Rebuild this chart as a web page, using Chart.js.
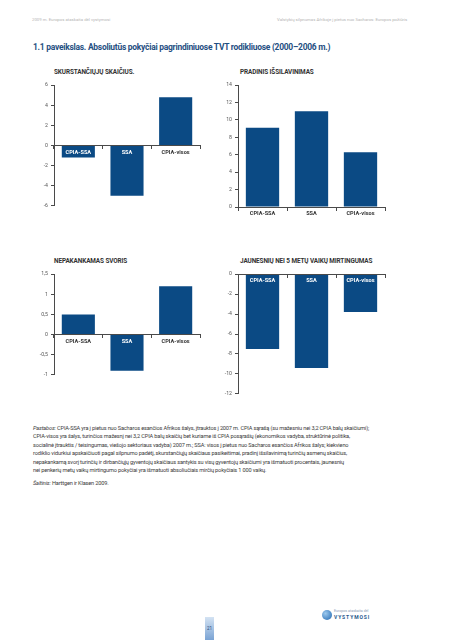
<!DOCTYPE html>
<html lang="lt">
<head>
<meta charset="utf-8">
<title>1.1 paveikslas</title>
<script src="https://cdn.jsdelivr.net/npm/chart.js@4.4.1/dist/chart.umd.min.js"></script>
<style>
    body { margin: 0; width: 453px; height: 640px; background: #fff; position: relative; overflow: hidden; font-family: Roboto, "Open Sans", sans-serif; }
    .abs { position: absolute; white-space: nowrap; }
    .header { font-size: 4.3px; color: #b4b4b4; top: 17px; }
    .main-title { left: 33px; top: 41px; font-size: 9.2px; font-weight: 700; color: #1f4f82; letter-spacing: -0.28px; transform: scaleX(0.92); transform-origin: left top; }
    .chart-title { font-size: 6.4px; font-weight: 700; color: #333; letter-spacing: -0.1px; }
    canvas { position: absolute; }
    .note { left: 33px; font-size: 5.6px; color: #3a3a3a; letter-spacing: -0.15px; }
    .page-num { left: 205px; top: 617px; width: 9px; height: 23px; background: linear-gradient(#d4e3f3, #7aa3d4); font-size: 4.5px; color: #2b4c7c; text-align: center; line-height: 23px; }
    .logo-dot { left: 322px; top: 610px; width: 10px; height: 10px; border-radius: 50%; background: radial-gradient(circle at 35% 35%, #9cc9ee, #1f66b0); }
    .logo-top { left: 334px; top: 609px; font-size: 3.6px; color: #8a9cb4; }
    .logo-bot { left: 334px; top: 614px; font-size: 5px; font-weight: 700; color: #2a5a8e; letter-spacing: 0.9px; }
</style>
</head>
<body>

<div class="abs header" style="left:32px">2009 m. Europos ataskaita dėl vystymosi</div>
<div class="abs header" style="left:277px">Valstybių silpnumas Afrikoje į pietus nuo Sacharos: Europos požiūris</div>

<div class="abs main-title">1.1 paveikslas. Absoliutūs pokyčiai pagrindiniuose TVT rodikliuose (2000–2006 m.)</div>

<div class="abs chart-title" style="left:54px; top:68px">SKURSTANČIŲJŲ SKAIČIUS.</div>
<div class="abs chart-title" style="left:240px; top:68px">PRADINIS IŠSILAVINIMAS</div>
<div class="abs chart-title" style="left:54px; top:257px">NEPAKANKAMAS SVORIS</div>
<div class="abs chart-title" style="left:240px; top:257px">JAUNESNIŲ NEI 5 METŲ VAIKŲ MIRTINGUMAS</div>

<canvas id="povertyChart" width="175" height="133" style="left:30px; top:79px; width:175px; height:133px"></canvas>
<canvas id="educationChart" width="176" height="140" style="left:214px; top:79px; width:176px; height:140px"></canvas>
<canvas id="weightChart" width="175" height="113" style="left:30px; top:268px; width:175px; height:113px"></canvas>
<canvas id="mortalityChart" width="176" height="132" style="left:214px; top:268px; width:176px; height:132px"></canvas>

<div class="abs note" style="top:425px"><i>Pastabos:</i> CPIA-SSA yra į pietus nuo Sacharos esančios Afrikos šalys, įtrauktos į 2007 m. CPIA sąrašą (su mažesniu nei 3,2 CPIA balų skaičiumi);</div>
<div class="abs note" style="top:433.4px">CPIA-visos yra šalys, turinčios mažesnį nei 3,2 CPIA balų skaičių bet kuriame iš CPIA posąrašių (ekonomikos vadyba, struktūrinė politika,</div>
<div class="abs note" style="top:441.8px">socialinė įtrauktis / teisingumas, viešojo sektoriaus vadyba) 2007 m.; SSA: visos į pietus nuo Sacharos esančios Afrikos šalys; kiekvieno</div>
<div class="abs note" style="top:450.2px">rodiklio vidurkiui apskaičiuoti pagal silpnumo padėtį, skurstančiųjų skaičiaus pasikeitimai, pradinį išsilavinimą turinčių asmenų skaičius,</div>
<div class="abs note" style="top:458.6px">nepakankamą svorį turinčių ir dirbančiųjų gyventojų skaičiaus santykis su visų gyventojų skaičiumi yra išmatuoti procentais, jaunesnių</div>
<div class="abs note" style="top:467px">nei penkerių metų vaikų mirtingumo pokyčiai yra išmatuoti absoliučiais mirčių pokyčiais 1 000 vaikų.</div>
<div class="abs note" style="top:480px"><i>Šaltinis:</i> Harttgen ir Klasen 2009.</div>

<div class="abs page-num">21</div>
<div class="abs logo-dot"></div>
<div class="abs logo-top">Europos ataskaita dėl</div>
<div class="abs logo-bot">VYSTYMOSI</div>

<script>
// ===============================================
// Data
// ===============================================
const categories = ['CPIA-SSA', 'SSA', 'CPIA-visos'];

const povertyValues = [-1.2, -5.0, 4.8];
const educationValues = [9.1, 11.0, 6.3];
const weightValues = [0.5, -0.9, 1.2];
const mortalityValues = [-7.5, -9.4, -3.8];

// [min, max, step] for each y axis
const povertyTicks = [-6, 6, 2];
const educationTicks = [0, 14, 2];
const weightTicks = [-1, 1.5, 0.5];
const mortalityTicks = [-12, 0, 2];

const barColor = '#0b4a84';
const axisColor = '#4a4a4a';

// ===============================================
// One small bar chart
// ===============================================
function makeChart(canvasId, values, yTicks, bottomPad) {
    const [yMin, yMax, yStep] = yTicks;

    return new Chart(document.getElementById(canvasId), {
        type: 'bar',
        data: {
            labels: categories,
            datasets: [{
                data: values,
                backgroundColor: barColor,
                borderWidth: 0,
                categoryPercentage: 1,
                barPercentage: 0.68,
            }]
        },
        options: {
            responsive: false,
            animation: false,
            devicePixelRatio: 1,
            layout: { padding: { top: 5, right: 5, bottom: bottomPad, left: 0 } },
            plugins: {
                legend: { display: false },
                tooltip: { enabled: false },
            },
            scales: {
                x: {
                    position: { y: 0 }, // category axis sits on the zero line
                    afterFit: (scale) => { scale.height = 0; },
                    border: { color: axisColor, width: 1, z: 1 },
                    grid: { drawOnChartArea: false, drawTicks: true, tickLength: 3, color: axisColor, z: 1 },
                    ticks: {
                        z: 1, // labels go over the bars
                        padding: 0.5,
                        autoSkip: false,
                        maxRotation: 0,
                        font: { family: 'Roboto', size: 5.6, weight: 'bold' },
                        // white text when the label sits on a bar going down
                        color: (ctx) => values[ctx.index] < 0 ? '#ffffff' : '#333333',
                    },
                },
                y: {
                    min: yMin,
                    max: yMax,
                    afterFit: (scale) => { scale.width = 24; },
                    border: { color: axisColor, width: 1, z: 1 },
                    grid: { drawOnChartArea: false, drawTicks: true, tickLength: 3, color: axisColor },
                    ticks: {
                        stepSize: yStep,
                        padding: 3,
                        color: '#555555',
                        font: { family: 'Roboto', size: 5.2 },
                        callback: (v) => String(v).replace('.', ','),
                    },
                },
            },
        },
    });
}

makeChart('povertyChart', povertyValues, povertyTicks, 5);
makeChart('educationChart', educationValues, educationTicks, 12);
makeChart('weightChart', weightValues, weightTicks, 5);
makeChart('mortalityChart', mortalityValues, mortalityTicks, 5);
</script>
</body>
</html>
